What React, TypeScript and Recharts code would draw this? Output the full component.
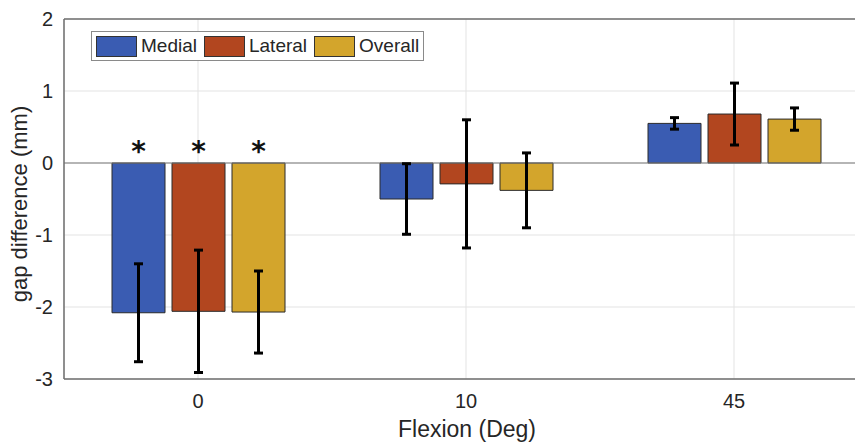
import React from "react";
import {
  BarChart,
  Bar,
  XAxis,
  YAxis,
  CartesianGrid,
  ErrorBar,
  LabelList,
  Legend,
  ReferenceLine,
} from "recharts";

const categories = ["0", "10", "45"];
const medial = [-2.08, -0.5, 0.55];
const medialErr = [0.68, 0.49, 0.08];
const medialSig = ["*", "", ""];
const lateral = [-2.06, -0.29, 0.68];
const lateralErr = [0.85, 0.89, 0.43];
const lateralSig = ["*", "", ""];
const overall = [-2.07, -0.38, 0.61];
const overallErr = [0.57, 0.52, 0.155];
const overallSig = ["*", "", ""];
const yTicks = [-3, -2, -1, 0, 1, 2];

const seriesNames = ["Medial", "Lateral", "Overall"];
const seriesColors = ["#3a5cb2", "#b2461f", "#d3a52c"];

const data = categories.map((c, i) => ({
  cat: c,
  medial: medial[i],
  medialErr: medialErr[i],
  medialSig: medialSig[i],
  lateral: lateral[i],
  lateralErr: lateralErr[i],
  lateralSig: lateralSig[i],
  overall: overall[i],
  overallErr: overallErr[i],
  overallSig: overallSig[i],
}));

const FONT = '"Liberation Sans", Arial, Helvetica, sans-serif';
const TEXT = "#262626";
const AXIS = "#6e6e6e";

const Star = (props: any) => {
  const { x, y, width, height, value } = props;
  if (!value) return null;
  const top = Math.min(Number(y), Number(y) + Number(height));
  return (
    <text
      x={Number(x) + Number(width) / 2}
      y={top - 2}
      textAnchor="middle"
      fontFamily='"DejaVu Sans", sans-serif'
      fontWeight="bold"
      fontSize={28}
      fill="#111"
    >
      {value}
    </text>
  );
};

const YLabel = (props: any) => {
  const vb = props.viewBox || {};
  const cy = vb.y + vb.height / 2 + 5;
  return (
    <text
      x={27}
      y={cy}
      transform={`rotate(-90 27 ${cy})`}
      textAnchor="middle"
      fontFamily={FONT}
      fontSize={22}
      fill={TEXT}
    >
      gap difference (mm)
    </text>
  );
};

const XLabel = () => {
  return (
    <text
      x={467}
      y={437}
      textAnchor="middle"
      fontFamily={FONT}
      fontSize={23}
      fill={TEXT}
    >
      Flexion (Deg)
    </text>
  );
};

const renderLegend = (props: any) => {
  const payload = [...(props.payload || [])].sort(
    (a: any, b: any) => seriesNames.indexOf(a.value) - seriesNames.indexOf(b.value)
  );
  return (
    <div
      style={{
        display: "flex",
        alignItems: "center",
        border: "1px solid #8a8a8a",
        background: "#fff",
        padding: "3px 4px 3px 4px",
        height: 22,
        fontFamily: FONT,
        fontSize: 19,
        color: TEXT,
        whiteSpace: "nowrap",
      }}
    >
      {payload.map((p: any, i: number) => (
        <div
          key={i}
          style={{ display: "flex", alignItems: "center", marginRight: i < payload.length - 1 ? 7 : 0 }}
        >
          <div
            style={{
              width: 39,
              height: 19,
              background: p.color,
              border: "1px solid #333",
              marginRight: 4,
            }}
          />
          <span>{p.value}</span>
        </div>
      ))}
    </div>
  );
};

export default function App() {
  const keys = ["medial", "lateral", "overall"];
  return (
    <div
      style={{
        position: "absolute",
        left: 0,
        top: 0,
        width: 855,
        height: 444,
        overflow: "hidden",
        background: "#fff",
      }}
    >
      <BarChart
        width={870}
        height={444}
        data={data}
        margin={{ top: 19, right: 2, bottom: 0, left: 0 }}
        barGap={7}
        barSize={53}
      >
        <CartesianGrid stroke="#e3e3e3" strokeWidth={1} />
        <XAxis
          dataKey="cat"
          height={65}
          tickSize={0}
          tickMargin={15}
          axisLine={{ stroke: AXIS, strokeWidth: 1.5 }}
          tickLine={false}
          tick={{ fontFamily: FONT, fontSize: 20, fill: TEXT }}
          label={<XLabel />}
        />
        <YAxis
          width={64}
          domain={[-3, 2]}
          ticks={yTicks}
          type="number"
          allowDataOverflow
          tickSize={0}
          tickMargin={11}
          axisLine={{ stroke: AXIS, strokeWidth: 1.5 }}
          tickLine={false}
          tick={{ fontFamily: FONT, fontSize: 20, fill: TEXT }}
          label={<YLabel />}
        />
        <ReferenceLine y={2} stroke={AXIS} strokeWidth={1.5} />
        <ReferenceLine y={0} stroke="#7a7a7a" strokeWidth={1.2} />
        <Legend
          layout="horizontal"
          verticalAlign="middle"
          align="center"
          content={renderLegend}
          wrapperStyle={{ left: 91, top: 31, width: "auto" }}
        />
        {keys.map((k, i) => (
          <Bar
            key={k}
            dataKey={k}
            name={seriesNames[i]}
            fill={seriesColors[i]}
            stroke="#2a2a2a"
            strokeWidth={1}
            isAnimationActive={false}
          >
            <ErrorBar dataKey={k + "Err"} width={4.5} strokeWidth={3} stroke="#000" direction="y" />
            <LabelList dataKey={k + "Sig"} content={<Star />} />
          </Bar>
        ))}
      </BarChart>
    </div>
  );
}
